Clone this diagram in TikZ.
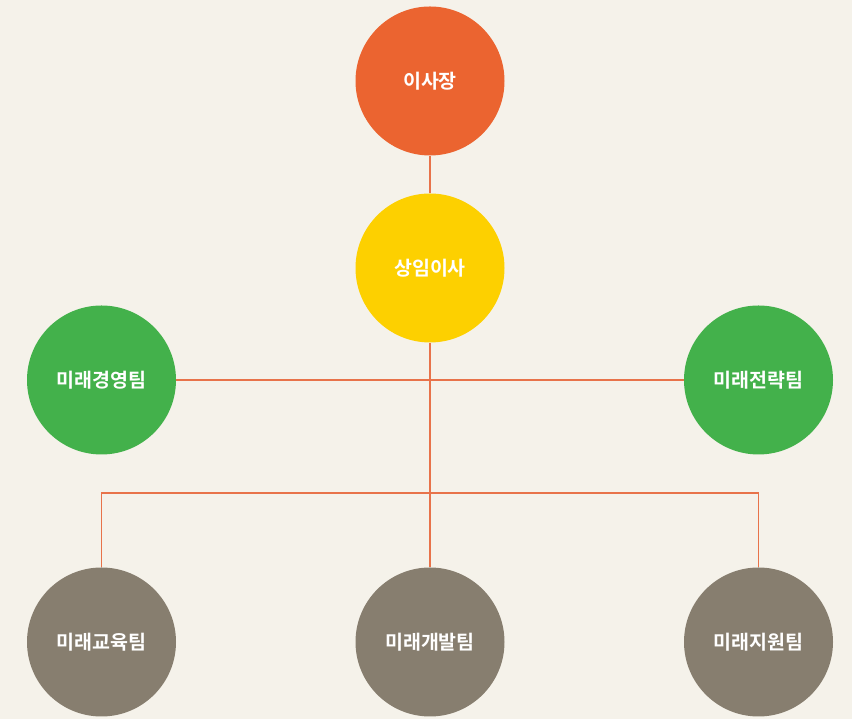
\documentclass[tikz,border=0pt]{standalone}
\usepackage{fontspec}
\newfontfamily\kr{Noto Sans CJK KR Bold}
\definecolor{bgc}{HTML}{F5F2EA}
\definecolor{orangec}{HTML}{EB6430}
\definecolor{yellowc}{HTML}{FDD000}
\definecolor{greenc}{HTML}{43B14B}
\definecolor{brownc}{HTML}{877E6F}
\definecolor{linec}{HTML}{E8734A}
\begin{document}
\begin{tikzpicture}[x=1pt,y=1pt,
  orgcircle/.style={circle,minimum size=149pt,inner sep=0pt,text=white,font=\kr\fontsize{19.5}{22}\selectfont},
  conn/.style={draw=linec,line width=1.3pt}]
\fill[bgc] (0,0) rectangle (852,719);
\useasboundingbox (0,0) rectangle (852,719);
\node[orgcircle,fill=orangec] (ceo) at (430,638) {이사장};
\node[orgcircle,fill=yellowc] (dir) at (430,451) {상임이사};
\node[orgcircle,fill=greenc] (g1) at (101.5,339) {미래경영팀};
\node[orgcircle,fill=greenc] (g2) at (758.5,339) {미래전략팀};
\node[orgcircle,fill=brownc] (b1) at (101.5,77) {미래교육팀};
\node[orgcircle,fill=brownc] (b2) at (430,77) {미래개발팀};
\node[orgcircle,fill=brownc] (b3) at (758.5,77) {미래지원팀};
\coordinate (j) at (430,226);
\draw[conn] (ceo.south) -- (dir.north);
\draw[conn] (dir.south) -- (b2.north);
\draw[conn] (g1.east) -- (g2.west);
\draw[conn] (b1.north) |- (j) -| (b3.north);
\end{tikzpicture}
\end{document}
